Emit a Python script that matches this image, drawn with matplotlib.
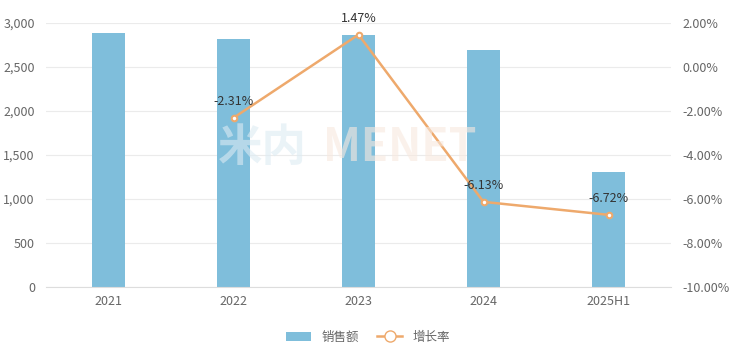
import matplotlib
matplotlib.use("Agg")
from matplotlib import pyplot as plt
from matplotlib.ticker import FuncFormatter
from matplotlib.patches import Patch
from matplotlib.lines import Line2D
import numpy as np

plt.rcParams['font.family'] = ['Noto Sans CJK SC', 'DejaVu Sans']

years = ['2021', '2022', '2023', '2024', '2025H1']
sales = [2886, 2818, 2864, 2688, 1307]
growth_years = ['2022', '2023', '2024', '2025H1']
growth = [-2.31, 1.47, -6.13, -6.72]

bar_color = '#7fbedb'
line_color = '#eea96c'
text_color = '#666666'
grid_color = '#ebebeb'

fig = plt.figure(figsize=(7.36, 3.55), dpi=100)
ax = fig.add_axes([46 / 736, 1 - 287 / 355, 625 / 736, 264 / 355])
ax2 = ax.twinx()

x = np.arange(len(years))
ax.bar(x, sales, width=0.26, color=bar_color, zorder=2)
ax.set_xlim(-0.5, len(years) - 0.5)
ax.set_ylim(0, 3000)
ax.set_yticks(np.arange(0, 3001, 500))
ax.yaxis.set_major_formatter(FuncFormatter(lambda v, p: f'{int(v):,}'))
ax.set_xticks(x)
ax.set_xticklabels(years)
ax.grid(axis='y', color=grid_color, linewidth=0.8, zorder=0)
ax.set_axisbelow(True)

gx = [years.index(y) for y in growth_years]
ax2.plot(gx, growth, color=line_color, linewidth=1.8, marker='o', markersize=4,
         markerfacecolor='white', markeredgecolor=line_color, markeredgewidth=1.5, zorder=3)
for xi, g in zip(gx, growth):
    ax2.text(xi, g + 0.45, f'{g:.2f}%', ha='center', va='bottom', fontsize=9, color='#333333')
ax2.set_ylim(-10, 2)
ax2.set_yticks(np.arange(-10, 2.1, 2))
ax2.yaxis.set_major_formatter(FuncFormatter(lambda v, p: f'{v:.2f}%'))

for a in (ax, ax2):
    for s in a.spines.values():
        s.set_visible(False)
    a.tick_params(length=0, colors=text_color, labelsize=9)
ax.spines['bottom'].set_visible(True)
ax.spines['bottom'].set_color('#dddddd')
ax.tick_params(axis='y', pad=8)
ax.tick_params(axis='x', pad=6)
ax2.tick_params(axis='y', pad=8)

# faint watermark
fig.text(262 / 736, 1 - 148 / 355, '米内', ha='center', va='center', fontsize=32,
         fontweight='bold', color='#dcebf3', alpha=0.6, zorder=0)
fig.text(400 / 736, 1 - 148 / 355, 'MENET', ha='center', va='center', fontsize=32,
         fontweight='bold', color='#f8e9df', alpha=0.6, zorder=0)

handles = [Patch(facecolor=bar_color, label='销售额'),
           Line2D([0], [0], color=line_color, linewidth=1.8, marker='o', markersize=8,
                  markerfacecolor='white', markeredgecolor=line_color, label='增长率')]
fig.legend(handles=handles, loc='center', bbox_to_anchor=(0.5, 1 - 337 / 355), ncol=2,
           frameon=False, fontsize=9, labelcolor=text_color, handlelength=2, columnspacing=1.5)

fig.savefig('out.png', dpi=100)
